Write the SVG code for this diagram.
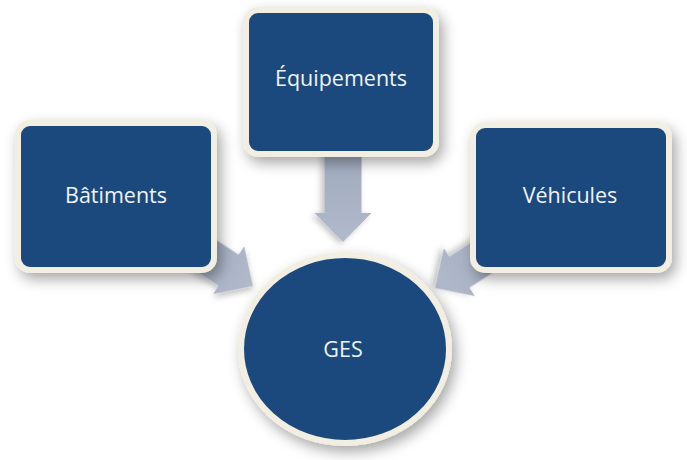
<svg xmlns="http://www.w3.org/2000/svg" width="687" height="460" viewBox="0 0 687 460">
  <defs>
    <filter id="shadow" x="-30%" y="-30%" width="160%" height="160%">
      <feDropShadow dx="4" dy="6" stdDeviation="7" flood-color="#000" flood-opacity="0.35"/>
    </filter>
    <filter id="ashadow" x="-30%" y="-30%" width="160%" height="160%">
      <feDropShadow dx="2" dy="3" stdDeviation="3" flood-color="#000" flood-opacity="0.25"/>
    </filter>
    <linearGradient id="arrowGrad" x1="0" y1="0" x2="1" y2="0">
      <stop offset="0" stop-color="#9ea9bd"/>
      <stop offset="1" stop-color="#b1bacb"/>
    </linearGradient>
    <polygon id="arrow" points="-95,-18.5 -29,-18.5 -29,-28.5 0,0 -29,28.5 -29,18.5 -95,18.5"/>
  </defs>
  <style>
    .node { fill: #1f497d; stroke: #f2eee1; stroke-width: 6; filter: url(#shadow); }
    .label { font-family: "Open Sans", "Noto Sans", sans-serif; font-size: 21.5px; fill: #eef3f8; text-anchor: middle; }
    .arr { fill: url(#arrowGrad); filter: url(#ashadow); }
  </style>
  <rect width="687" height="460" fill="#ffffff"/>
  <g id="connectors">
    <use href="#arrow" class="arr" transform="translate(343,242) rotate(90)"/>
    <use href="#arrow" class="arr" transform="translate(253,286) rotate(33)"/>
    <use href="#arrow" class="arr" transform="translate(435,288) rotate(147)"/>
  </g>
  <g id="batiments">
    <rect class="node" x="18" y="123" width="196" height="147" rx="12"/>
    <text class="label" x="116" y="203">Bâtiments</text>
  </g>
  <g id="equipements">
    <rect class="node" x="246" y="10" width="190" height="144" rx="12"/>
    <text class="label" x="341" y="86">Équipements</text>
  </g>
  <g id="vehicules">
    <rect class="node" x="473" y="125" width="196" height="145" rx="12"/>
    <text class="label" x="570" y="203">Véhicules</text>
  </g>
  <g id="ges">
    <ellipse class="node" cx="345" cy="349" rx="104" ry="94"/>
    <text class="label" x="343" y="357">GES</text>
  </g>
</svg>
